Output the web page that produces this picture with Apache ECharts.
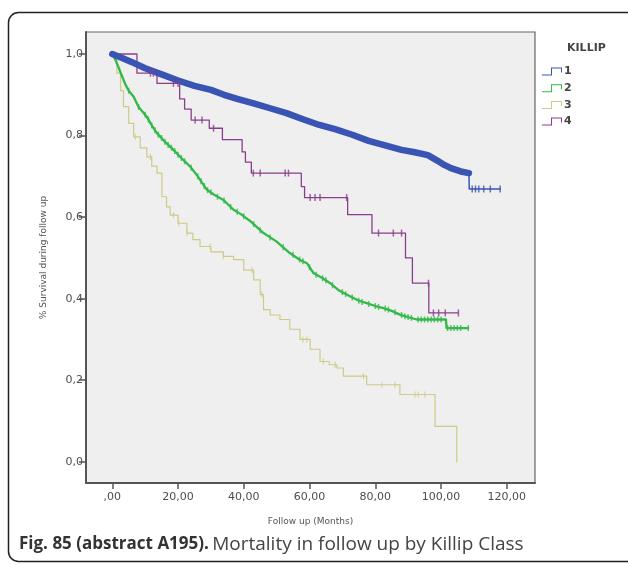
<!DOCTYPE html>
<html>
<head>
<meta charset="utf-8">
<script src="https://cdn.jsdelivr.net/npm/echarts@6/dist/echarts.min.js"></script>
<style>html,body{margin:0;padding:0;background:#fff;}#c{width:628px;height:565px;}</style>
</head>
<body>
<div id="c"></div>
<script>
// ---- data ----
const groups = ['1', '2', '3', '4'];
const xTicks = [0, 20, 40, 60, 80, 100, 120];
const yTicks = [0, 0.2, 0.4, 0.6, 0.8, 1.0];

// KILLIP 1 (blue)
const k1Time = [0, 3, 6, 10, 15, 20, 25, 30, 34, 38, 43, 48, 53, 58, 63, 68, 73, 78, 83, 88, 92, 96, 99, 101, 103, 106, 108.5, 108.6, 118];
const k1Surv = [1.0, 0.99, 0.98, 0.965, 0.95, 0.935, 0.922, 0.912, 0.9, 0.89, 0.879, 0.867, 0.855, 0.84, 0.826, 0.815, 0.802, 0.787, 0.776, 0.765, 0.759, 0.752, 0.738, 0.728, 0.72, 0.712, 0.708, 0.669, 0.669];
const k1CensTime = [109.5, 110.5, 111.5, 113, 115, 118];
const k1CensSurv = [0.669, 0.669, 0.669, 0.669, 0.669, 0.669];

// KILLIP 2 (green)
const k2Time = [0, 1, 2, 3, 4, 5, 6.5, 8, 10.5, 12, 13.6, 16, 18.6, 21, 23.7, 26, 28.8, 31, 33.8, 36.9, 39, 42, 46, 50, 54, 57.1, 59.2, 61.2, 64, 66.3, 69, 72.3, 75, 77.4, 80, 82.5, 85, 87.5, 90, 92.6, 101.5, 101.7, 108.3];
const k2Surv = [1.0, 0.985, 0.965, 0.945, 0.925, 0.91, 0.895, 0.87, 0.846, 0.825, 0.806, 0.785, 0.765, 0.745, 0.724, 0.7, 0.667, 0.655, 0.642, 0.618, 0.608, 0.59, 0.561, 0.54, 0.512, 0.495, 0.487, 0.463, 0.45, 0.438, 0.42, 0.406, 0.395, 0.389, 0.382, 0.377, 0.37, 0.361, 0.355, 0.349, 0.349, 0.328, 0.328];
const k2CensTime = [5, 8, 10, 11, 12, 13, 14, 15, 16, 17, 18, 19, 20, 21, 22, 24, 26, 27, 28, 29, 30, 32, 34, 36, 38, 40, 43, 45, 48, 52, 55, 57, 58, 60, 62, 64, 65, 67, 70, 71, 73, 75, 76, 78, 80, 81, 83, 84, 86, 88, 89, 90, 91, 93, 94, 95, 96, 97, 98, 99, 100, 102, 103, 104, 105, 106, 108.3];
const k2CensSurv = [0.91, 0.87, 0.851, 0.839, 0.825, 0.813, 0.802, 0.794, 0.785, 0.777, 0.77, 0.762, 0.753, 0.745, 0.737, 0.721, 0.70, 0.688, 0.676, 0.666, 0.661, 0.65, 0.641, 0.625, 0.613, 0.602, 0.583, 0.568, 0.55, 0.526, 0.508, 0.496, 0.492, 0.477, 0.459, 0.45, 0.445, 0.433, 0.416, 0.411, 0.403, 0.395, 0.392, 0.387, 0.382, 0.38, 0.376, 0.373, 0.367, 0.36, 0.357, 0.355, 0.353, 0.349, 0.349, 0.349, 0.349, 0.349, 0.349, 0.349, 0.349, 0.328, 0.328, 0.328, 0.328, 0.328, 0.328];

// KILLIP 3 (khaki)
const k3Time = [0, 1.4, 2.5, 3.4, 5, 6.5, 8.5, 10.5, 12, 13.6, 15.1, 16.5, 17.6, 20, 22.7, 24.5, 26.7, 30, 33.8, 36.9, 40, 43, 45, 46, 48, 51, 54, 57.1, 60.2, 63.2, 66, 68.3, 70.3, 77.4, 87.5, 98.2, 104.8];
const k3Surv = [1.0, 0.953, 0.91, 0.871, 0.83, 0.797, 0.77, 0.748, 0.725, 0.708, 0.65, 0.625, 0.605, 0.585, 0.561, 0.545, 0.528, 0.515, 0.504, 0.496, 0.47, 0.446, 0.41, 0.373, 0.36, 0.349, 0.325, 0.3, 0.276, 0.246, 0.238, 0.23, 0.21, 0.189, 0.165, 0.087, 0.0];
const k3CensTime = [7, 11.6, 18.6, 20.2, 22.7, 29.8, 33.8, 42.5, 45.5, 58, 59.2, 64.2, 67.8, 76.4, 82, 86, 92.1, 93.1, 95.1];

// KILLIP 4 (purple)
const k4Time = [0, 7.5, 13.6, 20.5, 22, 24, 29.5, 33.5, 39.5, 40.5, 42.3, 57.5, 58.5, 71.6, 79, 89.2, 91.3, 96.3, 105.3];
const k4Surv = [1.0, 0.953, 0.928, 0.89, 0.865, 0.838, 0.818, 0.79, 0.76, 0.735, 0.708, 0.675, 0.648, 0.606, 0.561, 0.5, 0.438, 0.365, 0.365];
const k4CensTime = [11.6, 12.5, 18.6, 20, 25.2, 27.3, 30.8, 42.9, 45, 52.6, 53.6, 60.2, 61.7, 63.2, 71.3, 81, 85.5, 88, 96.2, 97.7, 99.3, 101.3, 105.3];

const colors = {'1': '#3a54b4', '2': '#33b94a', '3': '#cfca88', '4': '#8a3f8a'};

// ---- helpers ----
function pairs(t, s) { return t.map((v, i) => [v, s[i]]); }
// value of a step curve (KM estimate) in force at time x
function stepAt(t, s, x) { let v = s[0]; for (let i = 0; i < t.length; i++) { if (t[i] <= x) v = s[i]; } return v; }
function censOnSteps(t, s, c) { return c.map(x => [x, stepAt(t, s, x)]); }

const k1 = pairs(k1Time, k1Surv);
const stepIcon = 'path://M0,7 H9 V0 H20 V5 H19 V1 H10 V8 H0 Z';

function lineSeries(name, data, width, step) {
  return {name, type: 'line', step: step, data, showSymbol: false, symbol: 'none',
    color: colors[name], lineStyle: {width, color: colors[name], cap: 'round', join: 'round'}, z: 2};
}
function censSeries(name, data, size) {
  return {name, type: 'scatter', data, symbol: 'rect', symbolSize: size,
    itemStyle: {color: colors[name]}, z: 3};
}

const chart = echarts.init(document.getElementById('c'), null, {renderer: 'canvas'});
chart.setOption({
  animation: false,
  backgroundColor: '#ffffff',
  title: {text: 'KILLIP', left: 562, top: 38, textStyle: {fontFamily: 'DejaVu Sans', fontSize: 11, fontWeight: 'bold', color: '#444'}},
  legend: {
    orient: 'vertical', left: 537, top: 61, itemWidth: 22, itemHeight: 8, itemGap: 5.7,
    icon: stepIcon,
    data: groups.map(g => ({name: g, icon: stepIcon, itemStyle: {color: colors[g]}})),
    textStyle: {fontFamily: 'DejaVu Sans', fontSize: 11, fontWeight: 'bold', color: '#444', padding: [0, 0, 0, -4]},
    selectedMode: false
  },
  grid: {left: 86, top: 32, right: 93, bottom: 82, show: true, backgroundColor: '#efefef', borderColor: '#666', borderWidth: 1.2},
  xAxis: {
    type: 'value', min: -8, max: 128.6,
    name: 'Follow up (Months)', nameLocation: 'middle', nameGap: 34,
    nameTextStyle: {fontFamily: 'DejaVu Sans', fontSize: 9, color: '#555'},
    axisLine: {show: true, onZero: false, lineStyle: {color: '#555', width: 2}},
    axisTick: {show: true, length: 6, customValues: xTicks, lineStyle: {color: '#555', width: 1.5}},
    axisLabel: {customValues: xTicks, margin: 9, fontFamily: 'DejaVu Sans', fontSize: 11, color: '#4d4d4d',
      formatter: v => (v === 0 ? '' : String(v)) + ',00'},
    splitLine: {show: false}
  },
  yAxis: {
    type: 'value', min: -0.052, max: 1.054,
    name: '% Survival during follow up', nameLocation: 'middle', nameGap: 38, nameRotate: 90,
    nameTextStyle: {fontFamily: 'DejaVu Sans', fontSize: 9, color: '#555'},
    axisLine: {show: true, onZero: false, lineStyle: {color: '#555', width: 2}},
    axisTick: {show: true, length: 7, customValues: yTicks, lineStyle: {color: '#555', width: 1.5}},
    axisLabel: {customValues: yTicks, margin: 3, fontFamily: 'DejaVu Sans', fontSize: 11, color: '#4d4d4d',
      formatter: v => v.toFixed(1).replace('.', ',')},
    splitLine: {show: false}
  },
  series: [
    lineSeries('3', pairs(k3Time, k3Surv), 1.2, 'end'),
    censSeries('3', censOnSteps(k3Time, k3Surv, k3CensTime), [1.2, 6]),
    lineSeries('2', pairs(k2Time, k2Surv), 2.3, false),
    censSeries('2', pairs(k2CensTime, k2CensSurv), [1.5, 6]),
    lineSeries('4', pairs(k4Time, k4Surv), 1.3, 'end'),
    censSeries('4', censOnSteps(k4Time, k4Surv, k4CensTime), [1.5, 7]),
    lineSeries('1', k1.slice(0, k1.length - 2), 6.5, false),
    lineSeries('1', k1.slice(k1.length - 3), 1.5, 'end'),
    censSeries('1', pairs(k1CensTime, k1CensSurv), [1.5, 7])
  ],
  graphic: [
    {type: 'rect', shape: {x: 8.5, y: 12.5, width: 640, height: 549, r: 10}, style: {fill: 'none', stroke: '#222', lineWidth: 1.5}, silent: true},
    {type: 'text', left: 19, top: 535, style: {
      text: '{b|Fig. 85 (abstract A195).} {r|Mortality in follow up by Killip Class}',
      rich: {
        b: {fontFamily: 'Open Sans', fontSize: 17, fontWeight: 'bold', fill: '#333'},
        r: {fontFamily: 'Open Sans', fontSize: 19, fill: '#444'}
      }
    }}
  ]
});
</script>
</body>
</html>
